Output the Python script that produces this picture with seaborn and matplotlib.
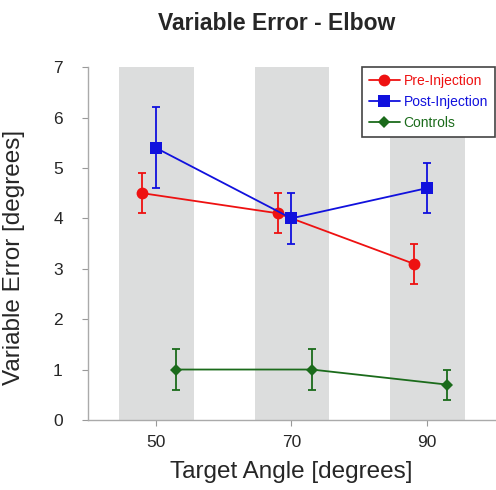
import pandas as pd
import matplotlib
matplotlib.use("Agg")
import matplotlib.pyplot as plt
import seaborn as sns

# Dados
angles = [50, 70, 90]
pre_x = [48, 68, 88]
pre_y = [4.5, 4.1, 3.1]
pre_err = [0.4, 0.4, 0.4]
post_x = [50, 70, 90]
post_y = [5.4, 4.0, 4.6]
post_err = [0.8, 0.5, 0.5]
ctrl_x = [53, 73, 93]
ctrl_y = [1.0, 1.0, 0.7]
ctrl_err = [0.4, 0.4, 0.3]
groups = ["Pre-Injection", "Post-Injection", "Controls"]

df = pd.concat([
    pd.DataFrame({"angle": pre_x, "ve": pre_y, "err": pre_err, "group": groups[0]}),
    pd.DataFrame({"angle": post_x, "ve": post_y, "err": post_err, "group": groups[1]}),
    pd.DataFrame({"angle": ctrl_x, "ve": ctrl_y, "err": ctrl_err, "group": groups[2]}),
])

colors = {"Pre-Injection": "#ee1111", "Post-Injection": "#1111dd", "Controls": "#1b6b1b"}
markers = {"Pre-Injection": "o", "Post-Injection": "s", "Controls": "D"}
msizes = {"Pre-Injection": 8.5, "Post-Injection": 8.5, "Controls": 6}

sns.set_style("white")
plt.rcParams["font.family"] = ["Liberation Sans", "DejaVu Sans"]

fig = plt.figure(figsize=(4.96, 4.9), dpi=100)
ax = fig.add_axes([0.177, 0.143, 0.821, 0.72])

# faixas cinza atrás de cada ângulo
for a in angles:
    ax.axvspan(a - 5.4, a + 5.6, color="#dcdddd", lw=0, zorder=0)

for g in groups:
    d = df[df["group"] == g]
    ax.errorbar(d["angle"], d["ve"], yerr=d["err"], fmt="none", ecolor=colors[g],
                elinewidth=1.3, capsize=3, capthick=1.3, zorder=2)
    sns.lineplot(data=d, x="angle", y="ve", color=colors[g], marker=markers[g],
                 markersize=msizes[g], markeredgewidth=0, lw=1.3, label=g, ax=ax, zorder=3)

ax.set_xlim(40, 100)
ax.set_ylim(0, 7)
ax.set_xticks(angles)
ax.set_yticks(range(0, 8))
ax.tick_params(axis="both", labelsize=12.5, length=4, color="#999999", direction="out",
               bottom=True, left=True)
ax.tick_params(axis="y", pad=14)
ax.tick_params(axis="x", pad=7)
for s in ["top", "right"]:
    ax.spines[s].set_visible(False)
for s in ["left", "bottom"]:
    ax.spines[s].set_color("#aaaaaa")
    ax.spines[s].set_linewidth(1)

ax.set_xlabel("Target Angle [degrees]", fontsize=17.5, labelpad=8)
ax.set_ylabel("Variable Error [degrees]", fontsize=17.5)
ax.yaxis.set_label_coords(-0.153, 0.46)
fig.suptitle("Variable Error - Elbow", fontsize=16.5, fontweight="bold", x=0.558, y=0.976)

leg = ax.legend(loc="upper right", fontsize=10, labelcolor="linecolor", fancybox=False,
                framealpha=1, edgecolor="#444444", borderaxespad=0.0, handlelength=2.2,
                handletextpad=0.3, borderpad=0.5)
leg.get_frame().set_linewidth(1.2)

plt.savefig("out.png", dpi=100)
